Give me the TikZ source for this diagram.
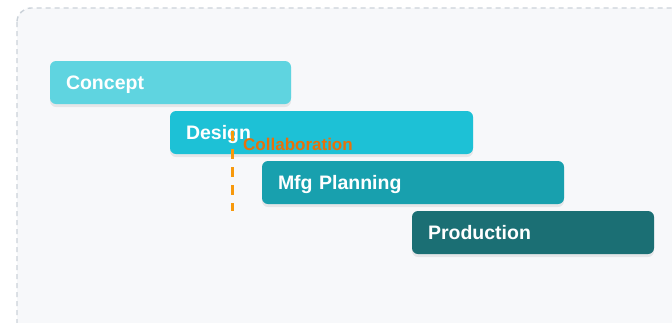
\documentclass[tikz,border=0pt]{standalone}
\usepackage{fontspec}
\setmainfont{Liberation Sans}
\usetikzlibrary{shadows}
\definecolor{bgfill}{HTML}{F7F8FA}
\definecolor{frameline}{HTML}{CBD2D9}
\definecolor{cconcept}{HTML}{5FD4E0}
\definecolor{cdesign}{HTML}{1DC1D6}
\definecolor{cmfg}{HTML}{18A0AE}
\definecolor{cprod}{HTML}{1B6F74}
\definecolor{collabtext}{HTML}{E8710A}
\definecolor{collabline}{HTML}{F7990C}
\tikzset{
  bar/.style={rectangle, rounded corners=6pt, anchor=north west, outer sep=0pt,
    inner xsep=16pt, inner ysep=0pt, minimum height=43pt, align=left,
    text height=14pt, text depth=0.5pt,
    text=white, font=\fontsize{19.5}{22}\selectfont\bfseries,
    drop shadow={shadow xshift=0pt, shadow yshift=-3pt, opacity=0.07, fill=black}},
  collab/.style={anchor=west, text=collabtext, font=\fontsize{17}{20}\selectfont\bfseries, inner sep=0pt},
  collabdash/.style={draw=collabline, line width=3pt, dash pattern=on 10pt off 8pt}
}
\begin{document}
\begin{tikzpicture}[x=1pt, y=-1pt]
\useasboundingbox (0,0) rectangle (672,322);
\fill[white] (0,0) rectangle (672,322);
\draw[frameline, fill=bgfill, line width=1.4pt, dash pattern=on 5pt off 4pt, rounded corners=14pt] (17,8) rectangle (690,340);
% bars
\node[bar, fill=cconcept, text width=209pt] (concept) at (50,61) {Concept};
\node[bar, fill=cdesign, text width=271pt] (design) at (170,111) {Design};
\node[bar, fill=cmfg, text width=270pt] (mfg) at (262,161) {Mfg Planning};
\node[bar, fill=cprod, text width=210pt] (prod) at (412,211) {Production};
% collaboration marker
\coordinate (ctop) at (232,131);
\coordinate (cbot) at (232,211);
\draw[collabdash] (ctop) -- (cbot);
\node[collab] (collab) at (243,144.5) {Collaboration};
\end{tikzpicture}
\end{document}
